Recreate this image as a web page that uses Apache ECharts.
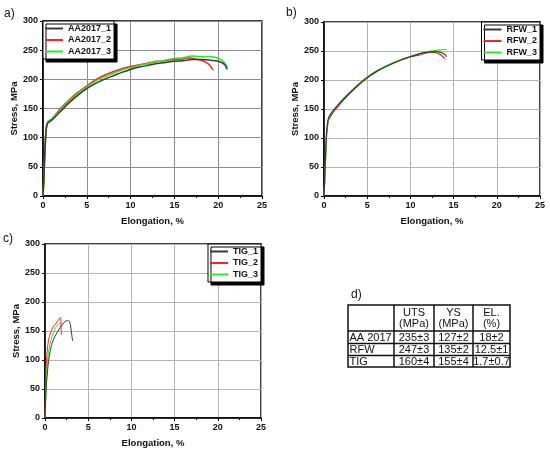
<!DOCTYPE html>
<html>
<head>
<meta charset="utf-8">
<script src="https://cdn.jsdelivr.net/npm/echarts@6/dist/echarts.min.js"></script>
<style>
  * { margin: 0; padding: 0; }
  html, body { width: 550px; height: 453px; background: #fff; overflow: hidden; }
  #renderDom { width: 550px; height: 453px; }
</style>
</head>
<body>
<div id="renderDom"></div>
<script>
// stress-strain curves, [elongation %, stress MPa]
var aa2017_1 = [[0,0],[0.1,30],[0.2,70],[0.3,100],[0.4,118],[0.55,125],[1,130],[2,145],[3,160],[4,173],[5,184],[6,193],[7,200],[8,206],[9,212],[10,217],[11,221],[12,224],[13,227],[14,229],[15,231],[16,232],[17,234],[18,234],[19,233],[20,231],[20.5,228],[20.8,224],[21,217]];
var aa2017_2 = [[0,0],[0.1,35],[0.2,75],[0.3,105],[0.4,120],[0.55,127],[1,132],[2,150],[3,165],[4,178],[5,189],[6,199],[7,207],[8,213],[9,218],[10,222],[11,225],[12,228],[13,231],[14,232],[15,234],[16,235],[16.7,237],[17.3,235],[18,233],[18.6,229],[19,225],[19.4,216]];
var aa2017_3 = [[0,0],[0.1,25],[0.2,65],[0.3,100],[0.4,119],[0.55,128],[1,132],[2,148],[3,163],[4,176],[5,187],[6,197],[7,204],[8,210],[9,216],[10,220],[11,224],[12,227],[13,230],[14,233],[15,236],[16,237],[16.9,240],[18,239],[19,239],[19.8,237],[20.4,233],[20.8,227],[21.1,219]];

var rfw_1 = [[0,0],[0.1,40],[0.2,80],[0.3,110],[0.45,130],[0.6,137],[1,146],[2,163],[3,178],[4,192],[5,204],[6,214],[7,222],[8,229],[9,235],[10,240],[11,245],[12,248],[13,249],[13.6,247],[14,244],[14.2,240]];
var rfw_2 = [[0,0],[0.1,35],[0.2,75],[0.3,105],[0.45,125],[0.6,133],[1,143],[2,161],[3,177],[4,191],[5,204],[6,214],[7,222],[8,229],[9,235],[10,240],[11,243],[12,247],[12.7,248],[13.3,245],[13.7,241],[14,237]];
var rfw_3 = [[0,0],[0.1,30],[0.2,70],[0.3,105],[0.45,127],[0.6,136],[1,146],[2,164],[3,179],[4,193],[5,205],[6,215],[7,223],[8,230],[9,236],[10,241],[11,245],[12,249],[13,251],[14.2,253]];

var tig_1 = [[0,0],[0.1,40],[0.2,65],[0.35,90],[0.5,108],[0.75,125],[1,136],[1.5,150],[2,161],[2.3,166],[2.6,168],[2.85,166],[3.0,155],[3.1,143],[3.2,133]];
var tig_2 = [[0,0],[0.05,40],[0.15,90],[0.3,123],[0.5,140],[0.8,153],[1.1,160],[1.4,166],[1.7,172],[1.8,173],[1.85,160],[1.9,143]];
var tig_3 = [[0,0],[0.1,35],[0.2,75],[0.3,100],[0.5,122],[0.8,140],[1.1,152],[1.4,160],[1.7,163],[2.1,163]];

var namesA = ["AA2017_1", "AA2017_2", "AA2017_3"];
var namesB = ["RFW_1", "RFW_2", "RFW_3"];
var namesC = ["TIG_1", "TIG_2", "TIG_3"];
var lineColors = ["#3a3a3a", "#ff2020", "#22ee22"];

// table d)
var tableHead = [["", ""], ["UTS", "(MPa)"], ["YS", "(MPa)"], ["EL.", "(%)"]];
var tableRows = [
  ["AA 2017", "235±3", "127±2", "18±2"],
  ["RFW", "247±3", "135±2", "12.5±1"],
  ["TIG", "160±4", "155±4", "1.7±0.7"]
];

var FONT = "'Liberation Sans', Arial, sans-serif";
var chart = echarts.init(document.getElementById("renderDom"), null, { renderer: "canvas" });

var grids = [
  { left: 43, top: 21, width: 219, height: 175 },
  { left: 324, top: 22, width: 216, height: 174 },
  { left: 45, top: 244, width: 216, height: 174 }
];
var gridColors = ["#8c8c8c", "#b4b4b4", "#b4b4b4"];

function xAx(i) {
  return {
    gridIndex: i, type: "value", min: 0, max: 25, interval: 5,
    name: "Elongation, %", nameLocation: "middle", nameGap: 20,
    nameTextStyle: { fontFamily: FONT, fontWeight: "bold", fontSize: 9.5, color: "#111" },
    axisLine: { onZero: false, lineStyle: { color: "#000", width: 1.5 } },
    axisTick: { show: true, length: 3, lineStyle: { color: "#000", width: 1 } },
    minorTick: { show: true, splitNumber: 2, length: 2, lineStyle: { color: "#000" } },
    axisLabel: { fontFamily: FONT, fontWeight: "bold", fontSize: 9, color: "#111", margin: 5 },
    splitLine: { show: true, lineStyle: { color: gridColors[i], width: 1 } }
  };
}
function yAx(i) {
  return {
    gridIndex: i, type: "value", min: 0, max: 300, interval: 50,
    name: "Stress, MPa", nameLocation: "middle", nameGap: 23, nameRotate: 90,
    nameTextStyle: { fontFamily: FONT, fontWeight: "bold", fontSize: 9.5, color: "#111" },
    axisLine: { show: true, onZero: false, lineStyle: { color: "#000", width: 1.5 } },
    axisTick: { show: true, length: 3, lineStyle: { color: "#000", width: 1 } },
    axisLabel: { fontFamily: FONT, fontWeight: "bold", fontSize: 9, color: "#111", margin: 5 },
    splitLine: { show: true, lineStyle: { color: gridColors[i], width: 1 } }
  };
}

function mkSeries(names, datas, gi, w) {
  return names.map(function (n, k) {
    return {
      name: n, type: "line", xAxisIndex: gi, yAxisIndex: gi,
      data: datas[k], showSymbol: false, symbol: "none", smooth: 0.3,
      lineStyle: { color: lineColors[k], width: w }, itemStyle: { color: lineColors[k] },
      animation: false, z: 3 + (k === 0 ? 1 : 0)
    };
  });
}

function mkLegend(names, pos) {
  return Object.assign({
    data: names.map(function (n) { return { name: n, icon: "rect" }; }),
    orient: "vertical", itemWidth: 18, itemHeight: 2, itemGap: 2.5,
    padding: [3, 3, 3, 2], backgroundColor: "#fff", borderColor: "#000", borderWidth: 1,
    borderRadius: 0, shadowColor: "#000", shadowBlur: 0, shadowOffsetX: 3, shadowOffsetY: 3,
    selectedMode: false,
    textStyle: { fontFamily: FONT, fontWeight: "bold", fontSize: 9, color: "#111", lineHeight: 9 }
  }, pos);
}

// table drawing via graphic
var colX = [348, 394, 434, 473, 510];
var rowY = [305, 331, 343.5, 355.5, 367];
var tbl = [];
tbl.push({ type: "rect", shape: { x: colX[0], y: rowY[0], width: colX[4] - colX[0], height: rowY[4] - rowY[0] },
  style: { fill: "#fff", stroke: "#111", lineWidth: 1.5 } });
colX.slice(1, 4).forEach(function (x) {
  tbl.push({ type: "line", shape: { x1: x, y1: rowY[0], x2: x, y2: rowY[4] }, style: { stroke: "#111", lineWidth: 1.5 } });
});
rowY.slice(1, 4).forEach(function (y) {
  tbl.push({ type: "line", shape: { x1: colX[0], y1: y, x2: colX[4], y2: y }, style: { stroke: "#111", lineWidth: 1.5 } });
});
tableHead.forEach(function (h, c) {
  var cx = (colX[c] + colX[c + 1]) / 2;
  tbl.push({ type: "text", x: cx, y: 313, style: { text: h[0], font: "11px " + FONT, fill: "#111", align: "center", verticalAlign: "middle" } });
  tbl.push({ type: "text", x: cx, y: 324, style: { text: h[1], font: "11px " + FONT, fill: "#111", align: "center", verticalAlign: "middle" } });
});
tableRows.forEach(function (r, ri) {
  var cy = (rowY[ri + 1] + rowY[ri + 2]) / 2 + 0.5;
  r.forEach(function (t, c) {
    var left = c === 0;
    tbl.push({ type: "text", x: left ? colX[0] + 1.5 : (colX[c] + colX[c + 1]) / 2, y: cy,
      style: { text: t, font: "11px " + FONT, fill: "#111", align: left ? "left" : "center", verticalAlign: "middle" } });
  });
});

function panelLabel(t, x, y) {
  return { type: "text", x: x, y: y, style: { text: t, font: "12px " + FONT, fill: "#111", verticalAlign: "middle" } };
}

var option = {
  animation: false,
  backgroundColor: "#fff",
  grid: grids.map(function (g) {
    return Object.assign({ show: true, borderColor: "#000", borderWidth: 1.5, backgroundColor: "transparent" }, g);
  }),
  xAxis: [xAx(0), xAx(1), xAx(2)],
  yAxis: [yAx(0), yAx(1), yAx(2)],
  legend: [
    mkLegend(namesA, { left: 43, top: 21 }),
    mkLegend(namesB, { right: 10, top: 22 }),
    mkLegend(namesC, { right: 289, top: 244 })
  ],
  series: []
    .concat(mkSeries(namesA, [aa2017_1, aa2017_2, aa2017_3], 0, 1.5))
    .concat(mkSeries(namesB, [rfw_1, rfw_2, rfw_3], 1, 1.2))
    .concat(mkSeries(namesC, [tig_1, tig_2, tig_3], 2, 1)),
  graphic: [
    panelLabel("a)", 4, 14),
    panelLabel("b)", 286, 13),
    panelLabel("c)", 3, 239),
    panelLabel("d)", 351, 295)
  ].concat(tbl)
};
chart.setOption(option);
</script>
</body>
</html>
